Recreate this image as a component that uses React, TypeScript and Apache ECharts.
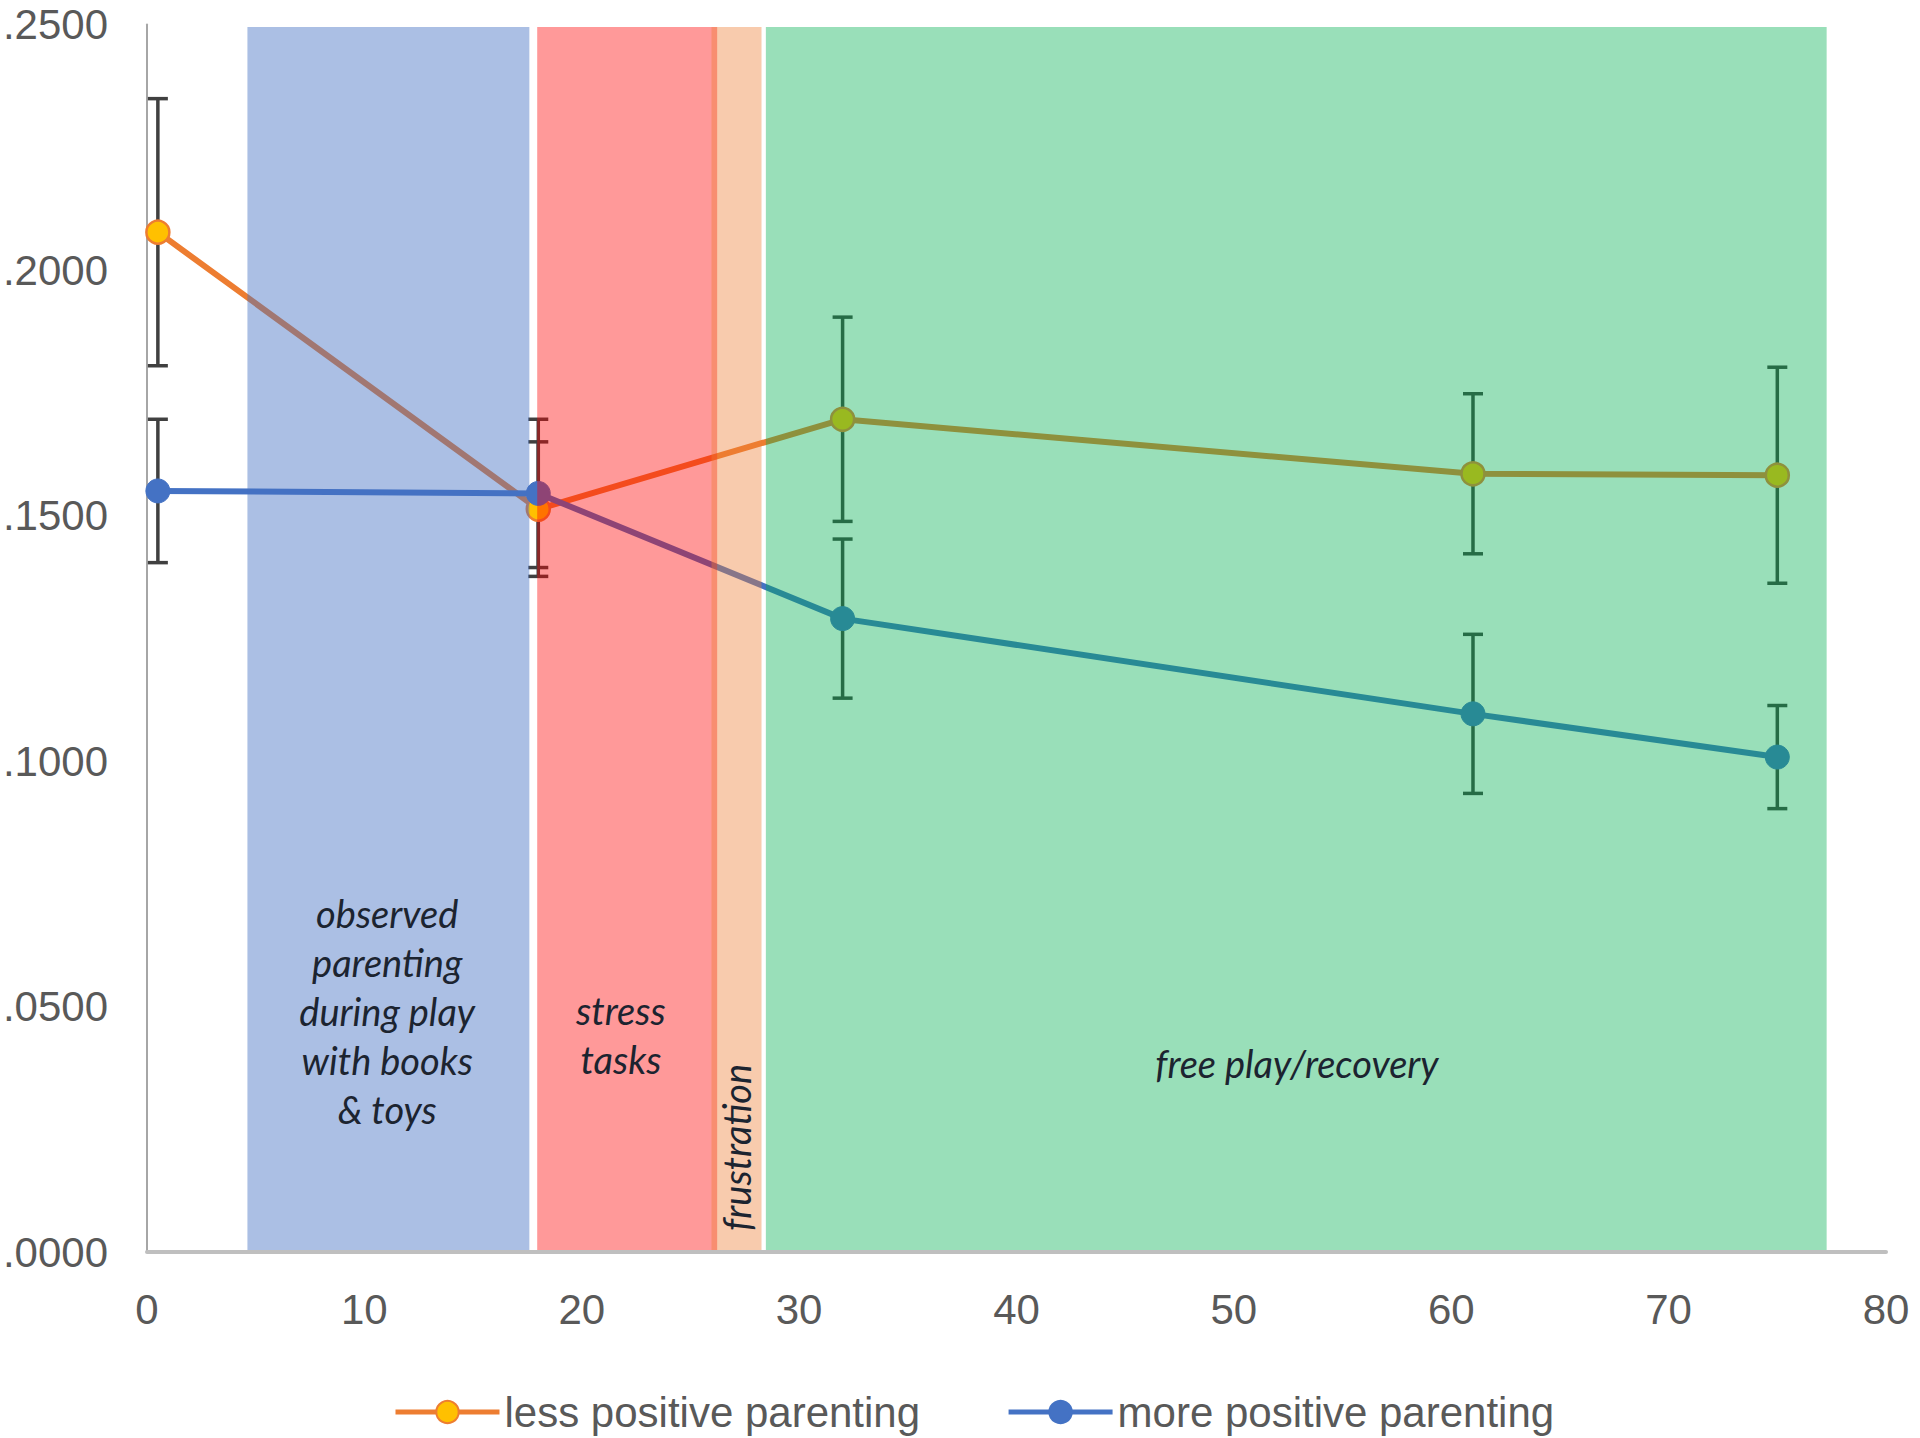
import React, { useEffect, useRef } from 'react';
import * as echarts from 'echarts';

// ---- data ----
const timePoints = [0.5, 18, 32, 61, 75];
const lessPositive = [0.2077, 0.1513, 0.1696, 0.1585, 0.1582];
const lessPositiveErr = [0.0272, 0.0137, 0.0208, 0.0163, 0.022];
const morePositive = [0.155, 0.1545, 0.129, 0.1096, 0.1008];
const morePositiveErr = [0.0146, 0.0151, 0.0162, 0.0162, 0.0105];

const seriesNames = ['less positive parenting', 'more positive parenting'];

const phaseStart = [4.62, 17.95, 25.97, 28.47];
const phaseEnd = [17.59, 26.23, 28.27, 77.27];
const phaseTop = 0.2495;

const phaseLabels = [
  'observed\nparenting\nduring play\nwith books\n& toys',
  'stress\ntasks',
  'frustration',
  'free play/recovery',
];
const phaseLabelX = [11.05, 21.8, 27.1, 52.9];
const phaseLabelY = [0.0491, 0.0442, 0.0213, 0.0385];

const xTicks = { min: 0, max: 80, interval: 10 };
const yTicks = { min: 0, max: 0.25, interval: 0.05 };

// ---- styles ----
const phaseColors = [
  'rgba(68,114,196,0.45)',
  'rgba(255,0,0,0.4)',
  'rgba(237,125,49,0.4)',
  'rgba(0,176,80,0.4)',
];
const labelRotations = [0, 0, Math.PI / 2, 0];

export default function App() {
  const ref = useRef<HTMLDivElement>(null);

  useEffect(() => {
    document.body.style.margin = '0';
    if (!ref.current) return;
    const chart = echarts.init(ref.current, undefined, { renderer: 'svg' });

    const errRender = (params: any, api: any) => {
      const x = api.value(0);
      const lo = api.value(1);
      const hi = api.value(2);
      const pLo = api.coord([x, lo]);
      const pHi = api.coord([x, hi]);
      const hw = 10;
      const st = { stroke: '#404040', lineWidth: 3.5 };
      return {
        type: 'group',
        children: [
          { type: 'line', shape: { x1: pLo[0], y1: pLo[1], x2: pHi[0], y2: pHi[1] }, style: st },
          { type: 'line', shape: { x1: pLo[0] - hw, y1: pLo[1], x2: pLo[0] + hw, y2: pLo[1] }, style: st },
          { type: 'line', shape: { x1: pHi[0] - hw, y1: pHi[1], x2: pHi[0] + hw, y2: pHi[1] }, style: st },
        ],
      };
    };

    const errData = (vals: number[], errs: number[]) =>
      timePoints.map((t, i) => [t, vals[i] - errs[i], vals[i] + errs[i]]);

    const option: any = {
      animation: false,
      grid: { left: 147, right: 34, top: 24.5, bottom: 186, outerBoundsMode: 'none', containLabel: false },
      xAxis: {
        type: 'value',
        min: xTicks.min,
        max: xTicks.max,
        interval: xTicks.interval,
        z: 10,
        axisLine: { show: true, lineStyle: { color: '#BFBFBF', width: 4 } },
        axisTick: { show: false },
        splitLine: { show: false },
        axisLabel: {
          fontSize: 42,
          color: '#595959',
          fontFamily: 'Liberation Sans',
          margin: 36,
        },
      },
      yAxis: {
        type: 'value',
        min: yTicks.min,
        max: yTicks.max,
        interval: yTicks.interval,
        axisLine: { show: true, lineStyle: { color: '#A6A6A6', width: 2 } },
        axisTick: { show: false },
        splitLine: { show: false },
        axisLabel: {
          fontSize: 42,
          color: '#595959',
          fontFamily: 'Liberation Sans',
          margin: 39,
          formatter: (v: number) => v.toFixed(4).replace(/^0/, ''),
        },
      },
      legend: {
        left: 388,
        top: 1386,
        itemWidth: 104,
        itemHeight: 28,
        itemGap: 86,
        lineStyle: { width: 5 },
        textStyle: { fontSize: 42, color: '#595959', fontFamily: 'Liberation Sans' },
        data: seriesNames,
      },
      series: [
        {
          type: 'custom',
          name: 'errLess',
          coordinateSystem: 'cartesian2d',
          z: 2,
          silent: true,
          encode: { x: 0, y: [1, 2] },
          renderItem: errRender,
          data: errData(lessPositive, lessPositiveErr),
        },
        {
          type: 'custom',
          name: 'errMore',
          coordinateSystem: 'cartesian2d',
          z: 2,
          silent: true,
          encode: { x: 0, y: [1, 2] },
          renderItem: errRender,
          data: errData(morePositive, morePositiveErr),
        },
        {
          type: 'line',
          name: seriesNames[0],
          z: 3,
          data: timePoints.map((t, i) => [t, lessPositive[i]]),
          symbol: 'circle',
          symbolSize: 23,
          lineStyle: { color: '#ED7D31', width: 6 },
          itemStyle: { color: '#FFC000', borderColor: '#ED7D31', borderWidth: 2.5 },
        },
        {
          type: 'line',
          name: seriesNames[1],
          z: 3,
          data: timePoints.map((t, i) => [t, morePositive[i]]),
          symbol: 'circle',
          symbolSize: 24,
          lineStyle: { color: '#4472C4', width: 6 },
          itemStyle: { color: '#4472C4', borderColor: '#4472C4', borderWidth: 1 },
        },
        {
          type: 'custom',
          name: 'phases',
          coordinateSystem: 'cartesian2d',
          z: 5,
          silent: true,
          clip: false,
          encode: { x: [0, 1], y: 2 },
          renderItem: (params: any, api: any) => {
            const p0 = api.coord([api.value(0), api.value(2)]);
            const p1 = api.coord([api.value(1), 0]);
            return {
              type: 'rect',
              shape: { x: p0[0], y: p0[1], width: p1[0] - p0[0], height: p1[1] - p0[1] },
              style: { fill: phaseColors[params.dataIndex] },
            };
          },
          data: phaseStart.map((s, i) => [s, phaseEnd[i], phaseTop]),
        },
        {
          type: 'custom',
          name: 'phaseLabels',
          coordinateSystem: 'cartesian2d',
          z: 6,
          silent: true,
          clip: false,
          encode: { x: 0, y: 1 },
          renderItem: (params: any, api: any) => {
            const p = api.coord([api.value(0), api.value(1)]);
            return {
              type: 'text',
              x: p[0],
              y: p[1],
              rotation: labelRotations[params.dataIndex],
              style: {
                text: phaseLabels[params.dataIndex],
                font: 'italic 38px Lato',
                fill: '#1c2430',
                align: 'center',
                verticalAlign: 'middle',
                lineHeight: 49,
              },
            };
          },
          data: phaseLabelX.map((x, i) => [x, phaseLabelY[i]]),
        },
      ],
    };

    chart.setOption(option);
    return () => chart.dispose();
  }, []);

  return <div ref={ref} style={{ width: 1920, height: 1438 }} />;
}
